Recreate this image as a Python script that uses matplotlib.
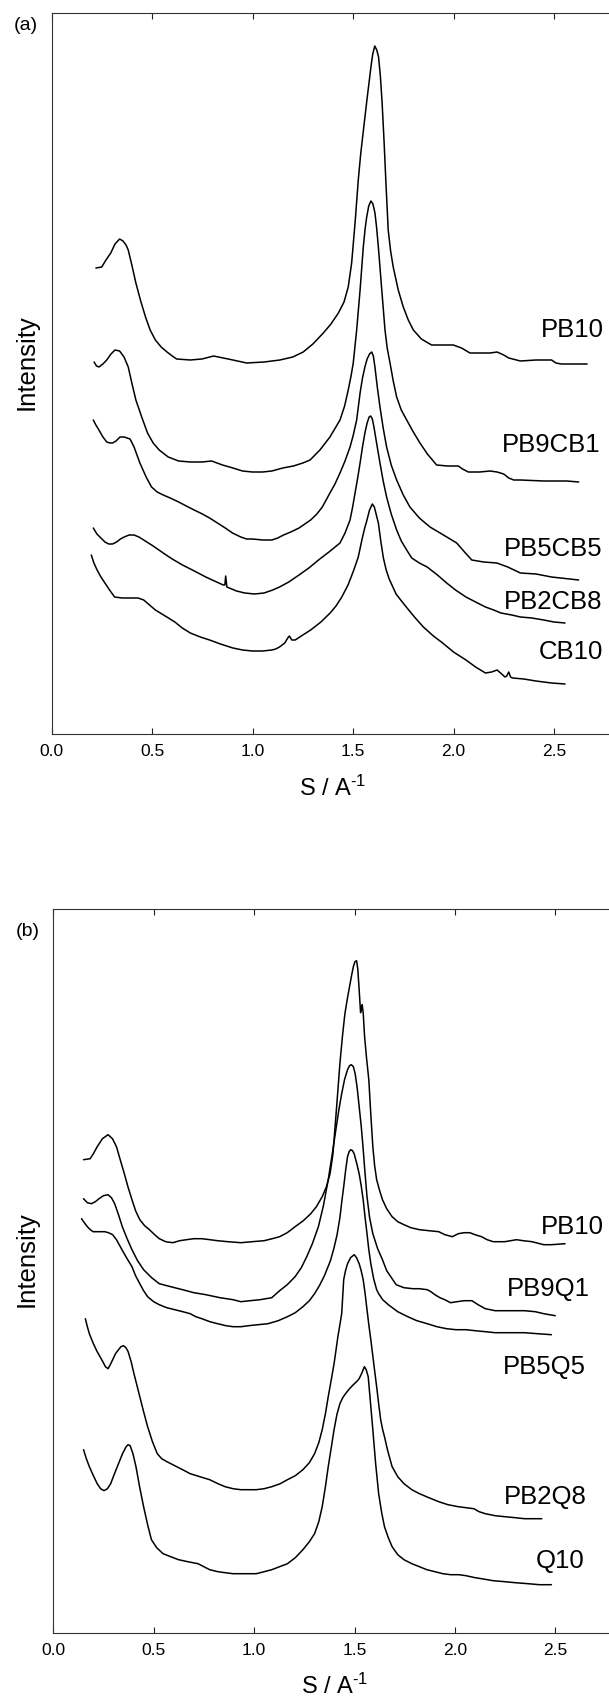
import matplotlib
matplotlib.use("Agg")
import matplotlib.pyplot as plt

plt.rcParams['font.family'] = ['Liberation Sans', 'DejaVu Sans']
plt.rcParams['mathtext.fontset'] = 'custom'
plt.rcParams['mathtext.rm'] = 'Liberation Sans'
plt.rcParams['mathtext.default'] = 'regular'

# Each trace: (S in 1/A, offset intensity in arbitrary units)

# ---------------- panel (a): PB / CB blends ----------------
a_names = ["PB10", "PB9CB1", "PB5CB5", "PB2CB8", "CB10"]

a_pb10 = [(0.220, 466), (0.249, 467), (0.270, 474), (0.294, 481), (0.315, 490),
          (0.338, 495), (0.355, 493), (0.370, 489), (0.381, 484), (0.400, 468),
          (0.419, 451), (0.443, 433), (0.467, 417), (0.490, 404), (0.516, 394),
          (0.545, 387), (0.574, 382), (0.600, 378), (0.622, 375), (0.690, 374),
          (0.748, 375), (0.806, 378), (0.854, 376), (0.902, 374), (0.970, 371),
          (1.057, 372), (1.136, 374), (1.200, 377), (1.252, 382), (1.300, 390),
          (1.352, 401), (1.390, 410), (1.427, 421), (1.455, 432), (1.476, 447),
          (1.493, 471), (1.510, 511), (1.526, 554), (1.538, 580), (1.550, 601),
          (1.569, 634), (1.580, 652), (1.589, 667), (1.598, 680), (1.608, 688),
          (1.618, 684), (1.627, 677), (1.636, 658), (1.645, 630), (1.655, 590),
          (1.663, 554), (1.675, 504), (1.687, 483), (1.700, 467), (1.725, 444),
          (1.750, 427), (1.775, 414), (1.800, 404), (1.840, 395), (1.891, 389),
          (1.999, 389), (2.040, 386), (2.082, 381), (2.182, 381), (2.217, 382),
          (2.250, 379), (2.275, 376), (2.333, 373), (2.410, 374), (2.488, 374),
          (2.510, 371), (2.536, 370), (2.665, 370)]

a_pb9cb1 = [(0.211, 372), (0.223, 368), (0.235, 367), (0.255, 370), (0.274, 374),
            (0.295, 380), (0.315, 384), (0.338, 383), (0.360, 377), (0.381, 367),
            (0.400, 350), (0.419, 334), (0.448, 317), (0.477, 301), (0.505, 291),
            (0.535, 284), (0.580, 277), (0.632, 273), (0.690, 272), (0.748, 272),
            (0.796, 273), (0.850, 269), (0.902, 266), (0.950, 263), (0.999, 262),
            (1.050, 262), (1.096, 263), (1.150, 266), (1.203, 268), (1.250, 271),
            (1.286, 274), (1.335, 284), (1.385, 297), (1.435, 314), (1.458, 328),
            (1.476, 344), (1.490, 358), (1.501, 371), (1.518, 404), (1.535, 444),
            (1.551, 487), (1.560, 505), (1.568, 517), (1.578, 528), (1.589, 533),
            (1.599, 530), (1.609, 521), (1.617, 507), (1.626, 487), (1.643, 444),
            (1.659, 404), (1.670, 386), (1.684, 371), (1.700, 353), (1.717, 337),
            (1.740, 324), (1.767, 314), (1.800, 302), (1.833, 291), (1.870, 280),
            (1.916, 269), (1.970, 268), (2.024, 268), (2.045, 265), (2.074, 262),
            (2.130, 262), (2.182, 263), (2.217, 262), (2.250, 260), (2.275, 256),
            (2.300, 254), (2.333, 254), (2.450, 253), (2.565, 253), (2.623, 252)]

a_pb5cb5 = [(0.207, 314), (0.220, 309), (0.235, 304), (0.255, 297), (0.274, 292),
            (0.290, 291), (0.303, 291), (0.320, 293), (0.340, 297), (0.361, 297),
            (0.375, 296), (0.390, 295), (0.410, 287), (0.439, 271), (0.470, 257),
            (0.497, 247), (0.525, 242), (0.555, 239), (0.590, 236), (0.632, 232),
            (0.670, 228), (0.709, 224), (0.750, 220), (0.786, 216), (0.825, 211),
            (0.864, 206), (0.900, 201), (0.941, 197), (0.970, 195), (0.999, 195),
            (1.050, 194), (1.096, 194), (1.125, 196), (1.154, 199), (1.190, 202),
            (1.231, 206), (1.260, 210), (1.289, 214), (1.320, 220), (1.347, 227),
            (1.385, 241), (1.410, 250), (1.435, 261), (1.460, 273), (1.485, 287),
            (1.500, 298), (1.518, 314), (1.535, 341), (1.547, 356), (1.559, 367),
            (1.570, 375), (1.582, 380), (1.593, 382), (1.601, 378), (1.609, 367),
            (1.620, 348), (1.634, 327), (1.650, 306), (1.667, 287), (1.690, 269),
            (1.717, 254), (1.750, 239), (1.783, 227), (1.830, 216), (1.883, 207),
            (1.950, 199), (2.016, 191), (2.055, 182), (2.091, 174), (2.150, 172),
            (2.216, 171), (2.270, 167), (2.333, 161), (2.411, 160), (2.488, 157),
            (2.623, 154)]

a_pb2cb8 = [(0.207, 206), (0.225, 200), (0.245, 196), (0.265, 192), (0.284, 190),
            (0.303, 190), (0.323, 192), (0.342, 195), (0.361, 197), (0.385, 199),
            (0.410, 199), (0.434, 197), (0.458, 194), (0.505, 188), (0.555, 181),
            (0.600, 175), (0.651, 169), (0.710, 163), (0.767, 157), (0.810, 153),
            (0.854, 149), (0.862, 149), (0.866, 158), (0.872, 147), (0.920, 143),
            (0.961, 141), (1.010, 140), (1.057, 141), (1.100, 144), (1.134, 147),
            (1.180, 152), (1.231, 159), (1.280, 166), (1.328, 174), (1.380, 182),
            (1.435, 191), (1.460, 201), (1.485, 214), (1.498, 227), (1.510, 241),
            (1.523, 256), (1.535, 271), (1.547, 287), (1.559, 301), (1.570, 311),
            (1.580, 317), (1.588, 318), (1.596, 315), (1.604, 307), (1.618, 290),
            (1.634, 271), (1.650, 253), (1.667, 237), (1.690, 220), (1.717, 204),
            (1.740, 193), (1.767, 184), (1.792, 176), (1.830, 171), (1.869, 167),
            (1.920, 159), (1.966, 151), (2.010, 144), (2.062, 137), (2.110, 132),
            (2.159, 127), (2.200, 124), (2.236, 121), (2.290, 119), (2.333, 117),
            (2.390, 116), (2.449, 114), (2.500, 112), (2.555, 111)]

a_cb10 = [(0.197, 179), (0.210, 171), (0.226, 164), (0.245, 157), (0.265, 151),
          (0.288, 144), (0.313, 137), (0.350, 136), (0.400, 136), (0.430, 136),
          (0.458, 134), (0.487, 129), (0.516, 124), (0.565, 118), (0.613, 112),
          (0.650, 106), (0.690, 101), (0.740, 97), (0.786, 94), (0.840, 90),
          (0.902, 86), (0.950, 84), (0.999, 83), (1.050, 83), (1.096, 84),
          (1.115, 85), (1.134, 87), (1.160, 91), (1.175, 96), (1.183, 98),
          (1.195, 94), (1.212, 94), (1.250, 99), (1.289, 104), (1.340, 112),
          (1.386, 121), (1.415, 128), (1.444, 137), (1.475, 149), (1.502, 163),
          (1.526, 177), (1.545, 195), (1.558, 206), (1.568, 213), (1.582, 224),
          (1.596, 230), (1.606, 227), (1.616, 219), (1.626, 211), (1.638, 193),
          (1.651, 176), (1.665, 164), (1.680, 155), (1.714, 140), (1.745, 132),
          (1.773, 125), (1.810, 116), (1.850, 107), (1.900, 98), (1.946, 91),
          (2.000, 82), (2.062, 74), (2.110, 67), (2.159, 61), (2.190, 62),
          (2.217, 64), (2.240, 60), (2.256, 57), (2.265, 58), (2.275, 62),
          (2.284, 57), (2.294, 56), (2.350, 55), (2.410, 53), (2.488, 51),
          (2.555, 50)]

# ---------------- panel (b): PB / Q blends ----------------
b_names = ["PB10", "PB9Q1", "PB5Q5", "PB2Q8", "Q10"]

b_pb10 = [(0.151, 473), (0.184, 474), (0.200, 479), (0.219, 486), (0.245, 494),
          (0.273, 498), (0.295, 494), (0.315, 486), (0.335, 472), (0.354, 459),
          (0.372, 446), (0.392, 433), (0.410, 422), (0.431, 413), (0.455, 407),
          (0.479, 403), (0.505, 398), (0.528, 394), (0.560, 391), (0.595, 390),
          (0.630, 392), (0.663, 393), (0.700, 394), (0.740, 394), (0.780, 393),
          (0.818, 392), (0.870, 391), (0.934, 390), (0.990, 391), (1.050, 392),
          (1.090, 394), (1.127, 396), (1.165, 400), (1.204, 406), (1.245, 412),
          (1.282, 419), (1.310, 426), (1.339, 436), (1.360, 446), (1.378, 459),
          (1.392, 478), (1.402, 503), (1.415, 537), (1.427, 569), (1.440, 597),
          (1.452, 619), (1.465, 635), (1.475, 646), (1.485, 657), (1.494, 666),
          (1.502, 671), (1.510, 672), (1.516, 664), (1.522, 646), (1.530, 620),
          (1.534, 624), (1.538, 628), (1.543, 620), (1.550, 596), (1.560, 574),
          (1.571, 553), (1.581, 518), (1.591, 486), (1.600, 467), (1.610, 453),
          (1.625, 442), (1.639, 433), (1.660, 424), (1.687, 416), (1.715, 411),
          (1.746, 408), (1.780, 405), (1.823, 403), (1.870, 402), (1.919, 401),
          (1.950, 398), (1.987, 396), (2.016, 399), (2.045, 400), (2.074, 400),
          (2.100, 398), (2.132, 396), (2.160, 393), (2.190, 391), (2.248, 391),
          (2.306, 393), (2.340, 392), (2.383, 391), (2.442, 388), (2.480, 388),
          (2.548, 389)]

b_pb9q1 = [(0.151, 434), (0.170, 430), (0.190, 429), (0.210, 431), (0.228, 434),
           (0.250, 437), (0.273, 438), (0.290, 435), (0.306, 429), (0.325, 418),
           (0.344, 406), (0.368, 394), (0.392, 383), (0.420, 372), (0.450, 363),
           (0.490, 355), (0.528, 349), (0.585, 346), (0.644, 343), (0.700, 340),
           (0.760, 338), (0.830, 335), (0.895, 333), (0.934, 331), (0.980, 332),
           (1.030, 333), (1.088, 335), (1.127, 342), (1.165, 348), (1.204, 356),
           (1.235, 365), (1.262, 376), (1.290, 389), (1.320, 406), (1.345, 427),
           (1.369, 453), (1.390, 480), (1.407, 503), (1.422, 523), (1.436, 539),
           (1.450, 553), (1.465, 563), (1.475, 567), (1.484, 568), (1.494, 566),
           (1.503, 559), (1.513, 545), (1.523, 526), (1.533, 507), (1.542, 486),
           (1.552, 460), (1.562, 436), (1.575, 415), (1.591, 399), (1.615, 384),
           (1.639, 373), (1.660, 362), (1.687, 354), (1.707, 348), (1.746, 345),
           (1.790, 344), (1.823, 344), (1.862, 343), (1.880, 341), (1.900, 338),
           (1.925, 335), (1.949, 333), (1.978, 330), (2.010, 331), (2.045, 332),
           (2.084, 332), (2.115, 328), (2.151, 324), (2.200, 322), (2.270, 322),
           (2.345, 322), (2.400, 321), (2.442, 319), (2.499, 317)]

b_pb5q5 = [(0.141, 414), (0.155, 410), (0.170, 406), (0.185, 403), (0.199, 401),
           (0.230, 401), (0.257, 401), (0.275, 400), (0.296, 398), (0.315, 393),
           (0.334, 386), (0.362, 376), (0.392, 366), (0.410, 357), (0.431, 349),
           (0.450, 342), (0.470, 336), (0.500, 331), (0.528, 328), (0.565, 325),
           (0.605, 323), (0.645, 321), (0.682, 319), (0.710, 316), (0.740, 314),
           (0.780, 311), (0.818, 309), (0.860, 307), (0.895, 306), (0.935, 306),
           (0.972, 307), (1.020, 308), (1.069, 309), (1.120, 312), (1.166, 316),
           (1.205, 320), (1.243, 326), (1.275, 332), (1.301, 339), (1.325, 347),
           (1.350, 357), (1.380, 372), (1.398, 385), (1.413, 398), (1.427, 415),
           (1.437, 432), (1.446, 446), (1.456, 463), (1.465, 476), (1.473, 481),
           (1.481, 483), (1.490, 482), (1.498, 479), (1.510, 470), (1.523, 459),
           (1.533, 447), (1.543, 433), (1.552, 416), (1.562, 399), (1.571, 383),
           (1.581, 369), (1.595, 354), (1.610, 343), (1.620, 339), (1.640, 333),
           (1.668, 328), (1.715, 321), (1.765, 316), (1.810, 312), (1.862, 309),
           (1.910, 306), (1.958, 304), (2.005, 303), (2.055, 303), (2.100, 302),
           (2.151, 301), (2.200, 300), (2.248, 300), (2.300, 300), (2.345, 300),
           (2.410, 299), (2.480, 298)]

b_pb2q8 = [(0.160, 314), (0.170, 306), (0.180, 299), (0.200, 289), (0.219, 281),
           (0.233, 276), (0.247, 271), (0.260, 266), (0.273, 264), (0.284, 268),
           (0.296, 273), (0.310, 279), (0.325, 283), (0.337, 286), (0.350, 287),
           (0.362, 285), (0.373, 281), (0.388, 271), (0.402, 259), (0.416, 248),
           (0.431, 236), (0.450, 221), (0.470, 206), (0.494, 191), (0.518, 179),
           (0.540, 174), (0.566, 171), (0.605, 167), (0.644, 163), (0.682, 159),
           (0.730, 156), (0.779, 153), (0.820, 149), (0.856, 146), (0.895, 144),
           (0.934, 143), (0.970, 143), (1.011, 143), (1.050, 144), (1.088, 146),
           (1.130, 149), (1.166, 153), (1.205, 157), (1.243, 163), (1.275, 170),
           (1.301, 179), (1.322, 190), (1.339, 203), (1.355, 219), (1.369, 236),
           (1.385, 254), (1.398, 269), (1.408, 283), (1.417, 296), (1.427, 308),
           (1.436, 319), (1.446, 353), (1.455, 362), (1.465, 369), (1.480, 375),
           (1.498, 378), (1.510, 375), (1.523, 369), (1.533, 362), (1.543, 353),
           (1.552, 340), (1.562, 323), (1.571, 308), (1.581, 293), (1.595, 270),
           (1.610, 246), (1.620, 229), (1.630, 213), (1.640, 203), (1.649, 196),
           (1.665, 182), (1.687, 166), (1.715, 156), (1.746, 149), (1.785, 143),
           (1.823, 139), (1.870, 135), (1.919, 131), (1.965, 128), (2.016, 126),
           (2.055, 125), (2.094, 124), (2.120, 121), (2.151, 119), (2.200, 117),
           (2.248, 116), (2.300, 115), (2.345, 114), (2.432, 114)]

b_q10 = [(0.151, 183), (0.165, 174), (0.180, 166), (0.200, 157), (0.219, 149),
         (0.236, 144), (0.253, 142), (0.270, 144), (0.286, 149), (0.305, 159),
         (0.325, 169), (0.345, 179), (0.363, 186), (0.373, 188), (0.383, 187),
         (0.397, 179), (0.412, 166), (0.430, 146), (0.450, 126), (0.470, 108),
         (0.489, 93), (0.515, 85), (0.547, 79), (0.585, 76), (0.624, 73),
         (0.670, 71), (0.721, 69), (0.750, 66), (0.779, 63), (0.820, 61),
         (0.856, 60), (0.895, 59), (0.934, 59), (0.970, 59), (1.011, 59),
         (1.050, 61), (1.088, 63), (1.127, 66), (1.166, 69), (1.205, 75),
         (1.243, 83), (1.275, 91), (1.301, 99), (1.322, 111), (1.339, 126),
         (1.355, 146), (1.369, 166), (1.384, 185), (1.398, 203), (1.412, 218),
         (1.427, 229), (1.441, 235), (1.455, 239), (1.475, 244), (1.494, 248),
         (1.510, 251), (1.523, 254), (1.537, 260), (1.549, 266), (1.558, 263),
         (1.568, 256), (1.578, 233), (1.591, 203), (1.605, 169), (1.620, 139),
         (1.635, 120), (1.649, 106), (1.668, 95), (1.687, 86), (1.715, 78),
         (1.746, 73), (1.785, 69), (1.823, 66), (1.860, 63), (1.900, 61),
         (1.940, 59), (1.978, 58), (2.020, 58), (2.055, 57), (2.100, 55),
         (2.132, 54), (2.190, 52), (2.248, 51), (2.300, 50), (2.364, 49),
         (2.420, 48), (2.480, 48)]

x_ticks = [0.0, 0.5, 1.0, 1.5, 2.0, 2.5]
x_tick_labels = ["0.0", "0.5", "1.0", "1.5", "2.0", "2.5"]

a_curves = [a_pb10, a_pb9cb1, a_pb5cb5, a_pb2cb8, a_cb10]
b_curves = [b_pb10, b_pb9q1, b_pb5q5, b_pb2q8, b_q10]

# label anchor points (right edge, vertical centre) in data units
a_label_pos = [(2.749, 404), (2.734, 289), (2.743, 185), (2.743, 132), (2.743, 82)]
b_label_pos = [(2.742, 406), (2.672, 344), (2.650, 266), (2.654, 136), (2.645, 72)]

W, H = 609, 1700
fig = plt.figure(figsize=(W / 100, H / 100), dpi=100)

px_per_unit = 200.9
xmax = 2.8


def make_panel(left_px, top_px, bottom_px, curves, names, label_pos, tag, tag_xy,
               ylab_y):
    height_px = bottom_px - top_px
    ax = fig.add_axes([left_px / W, (H - bottom_px) / H,
                       xmax * px_per_unit / W, height_px / H])
    for trace in curves:
        s = [p[0] for p in trace]
        i = [p[1] for p in trace]
        ax.plot(s, i, color='black', lw=1.1, solid_joinstyle='round',
                solid_capstyle='round')
    ax.set_xlim(0, xmax)
    ax.set_ylim(0, height_px)
    ax.set_xticks(x_ticks)
    ax.set_xticklabels(x_tick_labels)
    ax.set_yticks([])
    ax.tick_params(axis='x', which='both', direction='in', top=True, bottom=True,
                   labeltop=False, length=4, width=0.8, pad=7.5, labelsize=12.5,
                   color='#222222')
    for side in ('left', 'bottom', 'top'):
        ax.spines[side].set_linewidth(0.8)
        ax.spines[side].set_color('#333333')
    ax.spines['right'].set_visible(False)

    for name, (lx, ly) in zip(names, label_pos):
        ax.text(lx, ly, name, ha='right', va='center', fontsize=18.5)

    ax.set_xlabel(r'S / A$^{\text{-1}}$', fontsize=17, va='center')
    ax.xaxis.set_label_coords(0.5, -(54 / height_px))
    ax.set_ylabel('Intensity', fontsize=18.5, va='center')
    ax.yaxis.set_label_coords(-(left_px - 27) / (xmax * px_per_unit), ylab_y)

    fig.text(tag_xy[0] / W, 1 - tag_xy[1] / H, tag, ha='center', va='center',
             fontsize=14)
    return ax


make_panel(51.7, 12.7, 734.0, a_curves, a_names, a_label_pos, '(a)', (26, 25), 0.516)
make_panel(53.2, 909.0, 1632.7, b_curves, b_names, b_label_pos, '(b)', (28, 931.7), 0.516)

fig.savefig('out.png', dpi=100)
